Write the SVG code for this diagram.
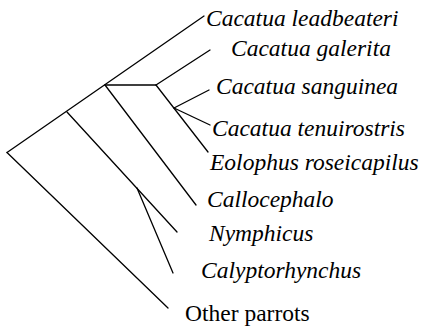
<svg xmlns="http://www.w3.org/2000/svg" width="425" height="328" viewBox="0 0 425 328">
<style>
.e{stroke:#000;stroke-width:1.3;fill:none;stroke-linecap:round}
text{font-family:'Liberation Serif','Times New Roman',Times,'DejaVu Serif',serif;font-size:23.5px;fill:#000}
.i{font-style:italic}
</style>
<rect width="425" height="328" fill="#fff"/>
<g id="connectors">
<line class="e" x1="7" y1="152.5" x2="204" y2="16"/>
<line class="e" x1="105" y1="85" x2="156" y2="85"/>
<line class="e" x1="156" y1="85" x2="210" y2="50"/>
<line class="e" x1="156" y1="85" x2="208" y2="152"/>
<line class="e" x1="174" y1="108" x2="209" y2="90"/>
<line class="e" x1="174" y1="108" x2="210" y2="125"/>
<line class="e" x1="105" y1="85" x2="196" y2="205"/>
<line class="e" x1="67" y1="112" x2="177" y2="232"/>
<line class="e" x1="137" y1="188" x2="173" y2="273"/>
<line class="e" x1="7" y1="152.5" x2="168" y2="308"/>
</g>
<g id="leadbeateri"><text class="i" x="206" y="26" font-family="Liberation Serif, serif">Cacatua leadbeateri</text></g>
<g id="galerita"><text class="i" x="231" y="56" font-family="Liberation Serif, serif">Cacatua galerita</text></g>
<g id="sanguinea"><text class="i" x="216" y="94" font-family="Liberation Serif, serif">Cacatua sanguinea</text></g>
<g id="tenuirostris"><text class="i" x="212" y="136" font-family="Liberation Serif, serif">Cacatua tenuirostris</text></g>
<g id="eolophus"><text class="i" x="210" y="170" font-family="Liberation Serif, serif">Eolophus roseicapilus</text></g>
<g id="callocephalo"><text class="i" x="207" y="207" font-family="Liberation Serif, serif">Callocephalo</text></g>
<g id="nymphicus"><text class="i" x="209" y="241" font-family="Liberation Serif, serif">Nymphicus</text></g>
<g id="calyptorhynchus"><text class="i" x="201" y="278" font-family="Liberation Serif, serif">Calyptorhynchus</text></g>
<g id="other"><text x="185" y="321" font-family="Liberation Serif, serif">Other parrots</text></g>
</svg>
